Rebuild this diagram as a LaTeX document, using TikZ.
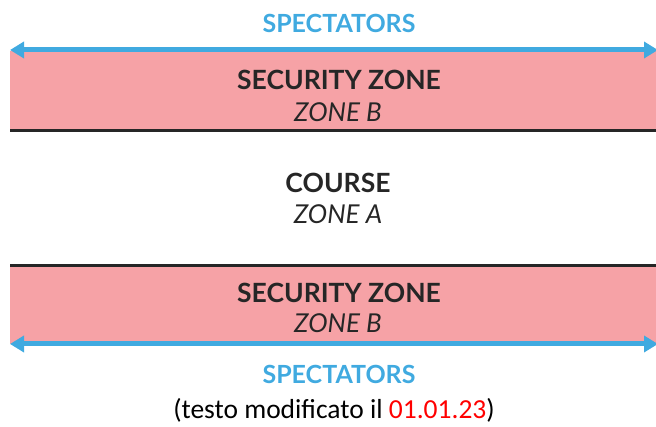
\documentclass[tikz,border=0pt]{standalone}
\usepackage{fontspec}
\setmainfont{Lato}
\newfontfamily\notefont{Carlito}
\usetikzlibrary{arrows.meta, positioning}
\definecolor{ZonePink}{RGB}{246,162,166}
\definecolor{SpecBlue}{RGB}{64,170,224}
\definecolor{TextDark}{RGB}{38,38,38}
\definecolor{DateRed}{RGB}{255,0,0}
\tikzset{
  % Fasce e testi
  zone/.style={fill=ZonePink, draw=none},
  zone title/.style={font=\bfseries\fontsize{26.5}{26.5}\selectfont, text=TextDark, anchor=base, inner sep=0},
  zone name/.style={font=\itshape\fontsize{26}{26}\selectfont, text=TextDark, anchor=base, inner sep=0},
  spec/.style={font=\bfseries\fontsize{25}{25}\selectfont, text=SpecBlue, anchor=base, inner sep=0},
  % Linee
  spec arrow/.style={{Triangle[length=14,width=16]}-{Triangle[length=14,width=16]}, SpecBlue, line width=5},
  border/.style={line width=3, TextDark}
}

\begin{document}
\begin{tikzpicture}[x=1pt,y=-1pt]
  \useasboundingbox (0,0) rectangle (656,427);
  % fasce di sicurezza
  \fill[zone] (10,51) rectangle (656,130);
  \fill[zone] (10,266) rectangle (656,344);
  \coordinate (tl) at (10,130.5);  \coordinate (tr) at (656,130.5);
  \coordinate (bl) at (10,265.5);  \coordinate (br) at (656,265.5);
  \draw[border] (tl) -- (tr);
  \draw[border] (bl) -- (br);
  \coordinate (al) at (10,50);  \coordinate (ar) at (658,50);
  \coordinate (cl) at (10,344); \coordinate (cr) at (658,344);
  \draw[spec arrow] (al) -- (ar);
  \draw[spec arrow] (cl) -- (cr);
  % testi
  \node[spec] (spec top) at (339,33) {SPECTATORS};
  \node[zone title] (sec top) at (339,90) {SECURITY ZONE};
  \node[zone name] (zb top) at (338,122) {ZONE B};
  \node[zone title] (course) at (338,193) {COURSE};
  \node[zone name] (za) at (338,224) {ZONE A};
  \node[zone title] (sec bot) at (339,303) {SECURITY ZONE};
  \node[zone name] (zb bot) at (338,333) {ZONE B};
  \node[spec] (spec bot) at (339,384) {SPECTATORS};
  \node[anchor=base, inner sep=0, font=\notefont\fontsize{27.5}{27.5}\selectfont] (note) at (334,418) {(testo modificato il \textcolor{DateRed}{01.01.23})};
\end{tikzpicture}
\end{document}
